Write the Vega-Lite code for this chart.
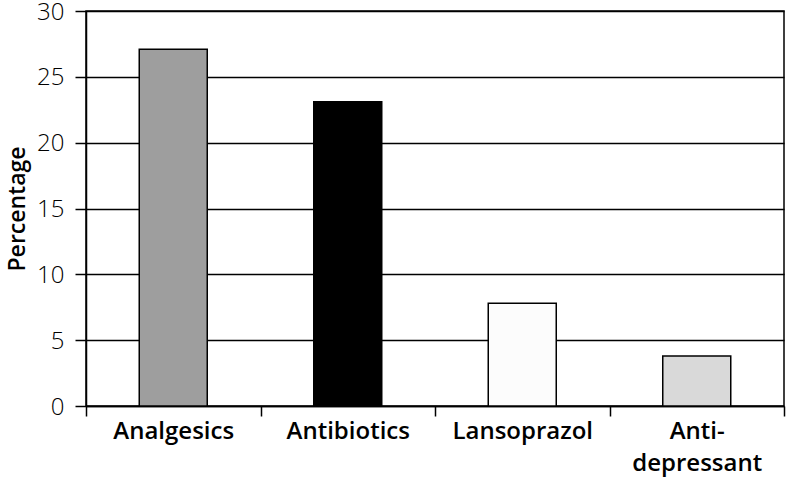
{
  "$schema": "https://vega.github.io/schema/vega-lite/v6.json",
  "width": 698,
  "height": 395,
  "autosize": {"type": "none"},
  "padding": {"left": 86, "top": 11, "right": 2, "bottom": 75},
  "background": "white",
  "config": {
    "view": {"stroke": "black", "strokeWidth": 1.5},
    "font": "Open Sans"
  },
  "data": {
    "values": [
      {"drug": "Analgesics", "pct": 27.1, "color": "#9e9e9e"},
      {"drug": "Antibiotics", "pct": 23.1, "color": "#000000"},
      {"drug": "Lansoprazol", "pct": 7.8, "color": "#fcfcfc"},
      {"drug": "Anti-depressant", "pct": 3.8, "color": "#d9d9d9"}
    ]
  },
  "mark": {"type": "bar", "size": 68, "stroke": "black", "strokeWidth": 1.5},
  "encoding": {
    "x": {
      "field": "drug",
      "type": "nominal",
      "sort": null,
      "scale": {"paddingInner": 0, "paddingOuter": 0},
      "axis": {
        "title": null,
        "labelAngle": 0,
        "tickBand": "extent",
        "tickSize": 10,
        "tickColor": "black",
        "tickWidth": 1.5,
        "domainColor": "black",
        "domainWidth": 1.5,
        "grid": false,
        "labelFont": "Open Sans",
        "labelFontSize": 24,
        "labelFontWeight": 600,
        "labelColor": "black",
        "labelPadding": 3,
        "labelLineHeight": 32,
        "labelExpr": "datum.value == 'Anti-depressant' ? ['Anti-', 'depressant'] : datum.label"
      }
    },
    "y": {
      "field": "pct",
      "type": "quantitative",
      "scale": {"domain": [0, 30], "nice": false},
      "axis": {
        "title": "Percentage",
        "titleFont": "Open Sans",
        "titleFontSize": 23,
        "titleFontWeight": 600,
        "titleColor": "black",
        "titlePadding": 7,
        "values": [0, 5, 10, 15, 20, 25, 30],
        "tickSize": 11,
        "tickColor": "black",
        "tickWidth": 1.5,
        "domainColor": "black",
        "domainWidth": 1.5,
        "grid": true,
        "gridColor": "black",
        "gridWidth": 1.5,
        "gridOpacity": 1,
        "labelFont": "Open Sans",
        "labelFontSize": 24,
        "labelFontWeight": 300,
        "labelColor": "black",
        "labelPadding": 11,
        "labelBaseline": "alphabetic",
        "labelOffset": 8
      }
    },
    "color": {"field": "color", "type": "nominal", "scale": null, "legend": null}
  }
}
